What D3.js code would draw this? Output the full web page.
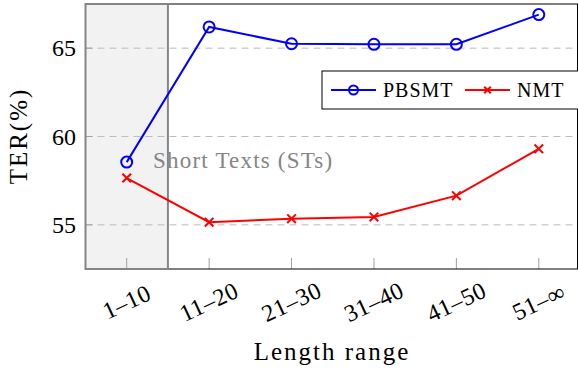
<!DOCTYPE html>
<html lang="en">
<head>
<meta charset="UTF-8">
<title>TER by length range</title>
<script src="https://d3js.org/d3.v7.min.js"></script>
<style>
  body { margin: 0; background: #fff; }
  svg { font-family: "Liberation Serif", serif; }
  svg text { font-family: "Liberation Serif", serif; fill: #000; }
  .grid line { stroke: #bdbdbd; stroke-width: 1; stroke-dasharray: 7 5; }
  .tick-mark { stroke: #a0a0a0; stroke-width: 1; }
</style>
</head>
<body>
<div id="chart"></div>
<script>
// categories and series values
const ranges = ["1\u201310", "11\u201320", "21\u201330", "31\u201340", "41\u201350", "51\u2013\u221e"];
const pbsmt = [58.55, 66.2, 65.25, 65.22, 65.22, 66.9];
const nmt = [57.65, 55.15, 55.35, 55.45, 56.65, 59.3];
const yTicks = [55, 60, 65];
const seriesNames = ["PBSMT", "NMT"];

const W = 578, H = 368;
const plot = { left: 85.5, top: 4, right: 577.5, bottom: 269 };
const serif = "'Liberation Serif', serif";

const svg = d3.select("#chart").append("svg")
  .attr("width", W)
  .attr("height", H)
  .attr("font-family", serif);

const x = d3.scaleLinear().domain([-0.5, ranges.length - 0.5]).range([plot.left, 580]);
const y = d3.scaleLinear().domain([52.5, 67.5]).range([plot.bottom, plot.top]);

// short text region
svg.append("rect")
  .attr("x", x(-0.5))
  .attr("y", plot.top)
  .attr("width", x(0.5) - x(-0.5))
  .attr("height", plot.bottom - plot.top)
  .attr("fill", "#f2f2f2");

// horizontal dashed grid
svg.append("g").attr("class", "grid")
  .selectAll("line")
  .data(yTicks)
  .join("line")
  .attr("x1", plot.left).attr("x2", plot.right)
  .attr("y1", d => y(d)).attr("y2", d => y(d));

// inner tick marks
svg.append("g").selectAll("line")
  .data(yTicks)
  .join("line")
  .attr("class", "tick-mark")
  .attr("x1", plot.left).attr("x2", plot.left + 7)
  .attr("y1", d => y(d)).attr("y2", d => y(d));

svg.append("g").selectAll("line")
  .data(ranges)
  .join("line")
  .attr("class", "tick-mark")
  .attr("x1", (d, i) => x(i)).attr("x2", (d, i) => x(i))
  .attr("y1", plot.bottom).attr("y2", plot.bottom - 11);

// frame
svg.append("rect")
  .attr("x", plot.left).attr("y", plot.top)
  .attr("width", plot.right - plot.left)
  .attr("height", plot.bottom - plot.top)
  .attr("fill", "none")
  .attr("stroke", "#000")
  .attr("stroke-width", 1);

svg.append("rect")
  .attr("x", x(-0.5))
  .attr("y", plot.top)
  .attr("width", x(0.5) - x(-0.5))
  .attr("height", plot.bottom - plot.top)
  .attr("fill", "none")
  .attr("stroke", "#858585")
  .attr("stroke-width", 2);

svg.append("text")
  .attr("x", 153)
  .attr("y", 168)
  .style("font-family", serif)
  .style("font-size", "23px")
  .style("letter-spacing", "1.2px")
  .style("fill", "#858585")
  .text("Short Texts (STs)");

// y tick labels
svg.append("g").selectAll("text")
  .data(yTicks)
  .join("text")
  .attr("x", 76)
  .attr("y", d => y(d))
  .attr("dy", "0.34em")
  .attr("text-anchor", "end")
  .style("font-family", serif)
  .style("font-size", "24px")
  .text(d => d);

// x tick labels, rotated
svg.append("g").selectAll("text")
  .data(ranges)
  .join("text")
  .attr("transform", (d, i) => `translate(${x(i)},302) rotate(-25)`)
  .attr("text-anchor", "middle")
  .attr("dominant-baseline", "central")
  .style("font-family", serif)
  .style("font-size", "24px")
  .style("letter-spacing", "0.5px")
  .text(d => d);

// axis titles
svg.append("text")
  .attr("x", 332)
  .attr("y", 360)
  .attr("text-anchor", "middle")
  .style("font-family", serif)
  .style("font-size", "25px")
  .style("letter-spacing", "2px")
  .text("Length range");

svg.append("text")
  .attr("transform", "translate(27,136) rotate(-90)")
  .attr("text-anchor", "middle")
  .style("font-family", serif)
  .style("font-size", "25px")
  .style("letter-spacing", "2px")
  .text("TER(%)");

// series
const line = d3.line().x((d, i) => x(i)).y(d => y(d));

svg.append("path")
  .datum(pbsmt)
  .attr("d", line)
  .attr("fill", "none")
  .attr("stroke", "#0000ff")
  .attr("stroke-width", 2);

svg.append("g").selectAll("circle")
  .data(pbsmt)
  .join("circle")
  .attr("cx", (d, i) => x(i))
  .attr("cy", d => y(d))
  .attr("r", 5.5)
  .attr("fill", "none")
  .attr("stroke", "#0000ff")
  .attr("stroke-width", 2);

svg.append("path")
  .datum(nmt)
  .attr("d", line)
  .attr("fill", "none")
  .attr("stroke", "#ff0000")
  .attr("stroke-width", 2);

const cross = d3.symbol().type(d3.symbolX).size(50);
svg.append("g").selectAll("path")
  .data(nmt)
  .join("path")
  .attr("transform", (d, i) => `translate(${x(i)},${y(d)})`)
  .attr("d", cross)
  .attr("fill", "none")
  .attr("stroke", "#ff0000")
  .attr("stroke-width", 2);

// legend
const legend = svg.append("g").attr("transform", "translate(322,71)");
legend.append("rect")
  .attr("width", 260)
  .attr("height", 38)
  .attr("fill", "#fff")
  .attr("stroke", "#000")
  .attr("stroke-width", 1);

const items = [
  { name: seriesNames[0], color: "#0000ff", x0: 9, tx: 61 },
  { name: seriesNames[1], color: "#ff0000", x0: 143, tx: 195 }
];
items.forEach((it, k) => {
  legend.append("line")
    .attr("x1", it.x0).attr("x2", it.x0 + 45)
    .attr("y1", 19).attr("y2", 19)
    .attr("stroke", it.color)
    .attr("stroke-width", 2);
  if (k === 0) {
    legend.append("circle")
      .attr("cx", it.x0 + 22.5).attr("cy", 19).attr("r", 4.5)
      .attr("fill", "none").attr("stroke", it.color).attr("stroke-width", 2);
  } else {
    legend.append("path")
      .attr("transform", `translate(${it.x0 + 22.5},19)`)
      .attr("d", d3.symbol().type(d3.symbolX).size(30))
      .attr("fill", "none").attr("stroke", it.color).attr("stroke-width", 2);
  }
  legend.append("text")
    .attr("x", it.tx)
    .attr("y", 25.5)
    .style("font-family", serif)
    .style("font-size", "20px")
    .style("letter-spacing", "1px")
    .text(it.name);
});
</script>
</body>
</html>
